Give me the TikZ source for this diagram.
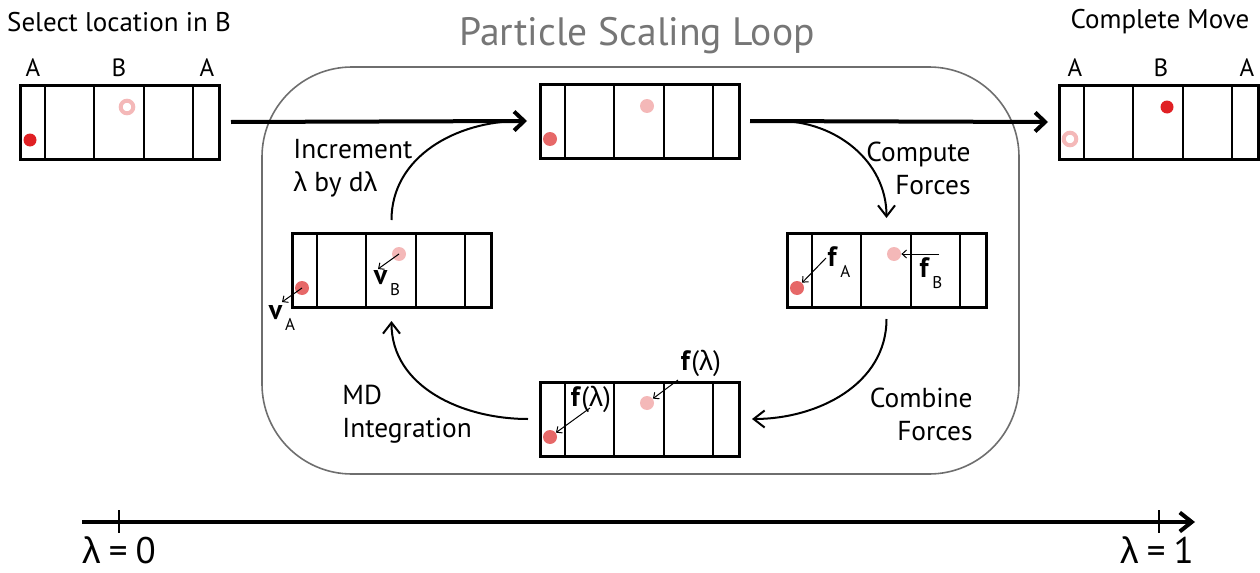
\documentclass[tikz,border=0pt]{standalone}
\usepackage{fontspec}
\setmainfont{PT Sans}
\newfontfamily\grkfont{Liberation Sans}
\usepackage{tikz}
\usetikzlibrary{calc, arrows.meta, positioning}
\definecolor{DotRed}{RGB}{224, 32, 36}
\definecolor{DotSalmon}{RGB}{230, 104, 104}
\definecolor{DotPink}{RGB}{244, 184, 184}
\definecolor{FrameGrey}{RGB}{110, 110, 110}
\definecolor{TitleGrey}{RGB}{118, 118, 118}
\newcommand{\lmb}{{\grkfont λ}}
\newcommand{\vsub}[2]{\textbf{#1}\kern1.2pt\raisebox{-0.8ex}{\fontsize{8.5}{9}\selectfont #2}}
\tikzset{
  simcell/.style={draw, line width=1.5pt, minimum width=99.5pt, minimum height=37pt, inner sep=0pt, outer sep=0pt},
  celldiv/.style={line width=1.3pt},
  dotred/.style={circle, fill=DotRed, minimum size=6.5pt, inner sep=0pt},
  dotsalmon/.style={circle, fill=DotSalmon, minimum size=7pt, inner sep=0pt},
  dotpink/.style={circle, fill=DotPink, minimum size=7pt, inner sep=0pt},
  ghost/.style={circle, draw=DotPink, line width=2pt, fill=white, minimum size=6.3pt, inner sep=0pt},
  loopframe/.style={draw=FrameGrey, line width=0.8pt, rounded corners=45pt},
  titletext/.style={text=TitleGrey, font=\fontsize{19.8}{24}\selectfont},
  headtext/.style={font=\fontsize{13.5}{16}\selectfont},
  celltext/.style={font=\fontsize{12.5}{15}\selectfont},
  steplabel/.style={font=\fontsize{13.7}{16.5}\selectfont, inner sep=0pt},
  veclabel/.style={font=\fontsize{14}{16}\selectfont, inner sep=0pt},
  lamtext/.style={font=\fontsize{18.5}{21}\selectfont},
  flowarrow/.style={line width=2pt, -{Straight Barb[length=5pt, width=9.5pt]}},
  loopline/.style={line width=1pt},
  looparrow/.style={loopline, -{Straight Barb[length=5.5pt, width=8.5pt]}},
  vecarrow/.style={line width=0.5pt, -{Straight Barb[length=2.2pt, width=4pt]}},
  timeaxis/.style={line width=2pt, -{Straight Barb[length=6pt, width=9.5pt]}},
  tickmark/.style={line width=1.2pt}
}
% one periodic box: name, left, top
\newcommand{\simbox}[3]{%
  \node[simcell, anchor=north west] (#1) at (#2,#3) {};
  \foreach \dx in {25,74,124,173}
    \draw[celldiv] ($(#1.north west)+(\dx,0)$) -- ($(#1.south west)+(\dx,0)$);
}

\begin{document}
\begin{tikzpicture}[x=0.5pt, y=-0.5pt]
    \useasboundingbox (0,0) rectangle (1260,573);

    % Loop frame
    \draw[loopframe] (262,67) rectangle (1019,474);
    \node[titletext] (title) at (637,36) {Particle Scaling Loop};

    % Boxes
    \simbox{start}{20}{85}
    \simbox{grow}{540}{84}
    \simbox{done}{1059}{85}
    \simbox{vel}{292}{233}
    \simbox{frc}{787}{233}
    \simbox{mix}{540}{382}

    % Headers
    \node[headtext] (hstart) at (119,22) {Select location in B};
    \node[headtext] (hdone) at (1160,22) {Complete Move};
    \foreach \cx/\ct in {33/A,119/B,207/A}
        \node[celltext] (cs\cx) at (\cx,68) {\ct};
    \foreach \cx/\ct in {1075/A,1161/B,1247/A}
        \node[celltext] (cd\cx) at (\cx,68) {\ct};

    % Particles
    \node[dotred] (a0) at (30,140) {};
    \node[ghost] (b0) at (127,107) {};
    \node[dotsalmon] (a1) at (550,139) {};
    \node[dotpink] (b1) at (647,106) {};
    \node[ghost] (a5) at (1070,139) {};
    \node[dotred] (b5) at (1167,107) {};
    \node[dotsalmon] (a2) at (302,288) {};
    \node[dotpink] (b2) at (399,254) {};
    \node[dotsalmon] (a3) at (797,288) {};
    \node[dotpink] (b3) at (894,254) {};
    \node[dotsalmon] (a4) at (550,437) {};
    \node[dotpink] (b4) at (647,403) {};

    % Velocities
    \coordinate (va) at (282,302);
    \coordinate (vb) at (378,269);
    \draw[vecarrow] (a2.center) -- (va);
    \draw[vecarrow] (b2.center) -- (vb);
    \node[veclabel] (lva) at (282,318) {\vsub{v}{A}};
    \node[veclabel] (lvb) at (387,283) {\vsub{v}{B}};

    % Forces
    \coordinate (fa) at (826,258);
    \coordinate (fb) at (939,254);
    \draw[vecarrow] (fa) -- (a3);
    \draw[vecarrow] (fb) -- (b3);
    \node[veclabel] (lfa) at (839,262) {\vsub{f}{A}};
    \node[veclabel] (lfb) at (931,273) {\vsub{f}{B}};

    % Combined forces
    \coordinate (fm) at (590,408);
    \coordinate (fn) at (678,380);
    \draw[vecarrow] (fm) -- (a4);
    \draw[vecarrow] (fn) -- (b4);
    \node[veclabel] (lfm) at (591,399) {\textbf{f}(\lmb)};
    \node[veclabel] (lfn) at (701,363) {\textbf{f}(\lmb)};

    % Main flow
    \draw[flowarrow] ([xshift=6pt]start.east) -- ([xshift=-6.5pt]grow.west);
    \draw[flowarrow] ([xshift=5.5pt]grow.east) -- ([xshift=-5.5pt]done.west);

    % Scaling loop
    \draw[loopline] ([yshift=6.5pt]vel.north) to[out=90, in=180] ([xshift=-10pt]grow.west);
    \draw[looparrow] ([xshift=20pt]grow.east) to[out=0, in=90] ([yshift=7.5pt]frc.north);
    \draw[looparrow] ([yshift=-6pt]frc.south) to[out=-90, in=0] ([xshift=6.5pt]mix.east);
    \draw[looparrow] ([xshift=-6pt]mix.west) to[out=180, in=-90] ([yshift=-7pt]vel.south);

    \node[steplabel, align=left, anchor=west] (inc) at (293,168) {Increment\\\lmb{} by d\lmb};
    \node[steplabel, align=right, anchor=east] (cmp) at (971,168) {Compute\\Forces};
    \node[steplabel, align=right, anchor=east] (cmb) at (973,414) {Combine\\Forces};
    \node[steplabel, align=left, anchor=west] (mdi) at (342,414) {MD\\Integration};

    % Lambda axis
    \coordinate (t0) at (82,522);
    \coordinate (t1) at (1195,522);
    \draw[timeaxis] (t0) -- (t1);
    \draw[tickmark] (119,510) -- (119,533);
    \draw[tickmark] (1159,510) -- (1159,533);
    \node[lamtext] (l0) at (119,550) {\lmb\hspace{0.22em}=\hspace{0.22em}0};
    \node[lamtext] (l1) at (1157,550) {\lmb\hspace{0.22em}=\hspace{0.22em}1};
\end{tikzpicture}
\end{document}
